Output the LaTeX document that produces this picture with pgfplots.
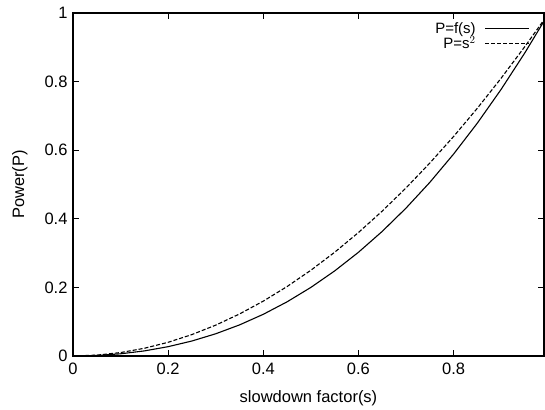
\documentclass[border=0pt]{standalone}
\usepackage{fontspec}
\setmainfont{Liberation Sans}
\usepackage{pgfplots}
\pgfplotsset{compat=1.18}
\begin{document}
\begin{tikzpicture}
\path[use as bounding box] (-73pt,-53pt) rectangle (472pt,356pt);
\begin{axis}[
  at={(0pt,0pt)}, anchor=south west,
  scale only axis,
  width=471pt, height=343pt,
  xmin=0, xmax=0.99, ymin=0, ymax=1,
  xtick={0,0.2,0.4,0.6,0.8},
  ytick={0,0.2,0.4,0.6,0.8,1},
  xticklabels={0,0.2,0.4,0.6,0.8},
  yticklabels={0,0.2,0.4,0.6,0.8,1},
  tick align=inside,
  major tick length=6pt,
  tick style={line width=1pt, black},
  axis line style={line width=1.1pt},
  ticklabel style={font=\fontsize{16.5}{19}\selectfont},
  xticklabel style={yshift=-3pt},
  yticklabel style={xshift=-2pt},
  label style={font=\fontsize{16.5}{19}\selectfont},
  xlabel={slowdown factor(s)},
  ylabel={Power(P)},
  xlabel style={yshift=-9pt},
  ylabel style={yshift=10pt},
  legend style={at={(1,1)}, anchor=north east, xshift=-14pt, yshift=-8pt,
    draw=none, fill=none, font=\fontsize{15}{16}\selectfont, row sep=0pt,
    column sep=8pt, inner sep=0pt, nodes={inner sep=1pt}},
  legend cell align=right,
  legend plot pos=right,
  legend image code/.code={\draw[#1] (0pt,0pt) -- (44pt,0pt);},
]
\addplot[black, line width=1.1pt] coordinates {
(0,0) (0.05,0.00155) (0.1,0.0064) (0.15,0.01485) (0.2,0.0272) (0.25,0.04375)
(0.3,0.0648) (0.35,0.09065) (0.4,0.1216) (0.45,0.15795) (0.5,0.2) (0.55,0.24805)
(0.6,0.3024) (0.65,0.36335) (0.7,0.4312) (0.75,0.50625) (0.8,0.5888) (0.85,0.67915)
(0.9,0.7776) (0.95,0.88445) (0.99,0.97618)
};
\addlegendentry{P=f(s)}
\addplot[black, line width=1.1pt, dash pattern=on 4pt off 2pt] coordinates {
(0,0) (0.05,0.0025) (0.1,0.01) (0.15,0.0225) (0.2,0.04) (0.25,0.0625)
(0.3,0.09) (0.35,0.1225) (0.4,0.16) (0.45,0.2025) (0.5,0.25) (0.55,0.3025)
(0.6,0.36) (0.65,0.4225) (0.7,0.49) (0.75,0.5625) (0.8,0.64) (0.85,0.7225)
(0.9,0.81) (0.95,0.9025) (0.99,0.9801)
};
\addlegendentry{P=s$^2$}
\end{axis}
\end{tikzpicture}
\end{document}
